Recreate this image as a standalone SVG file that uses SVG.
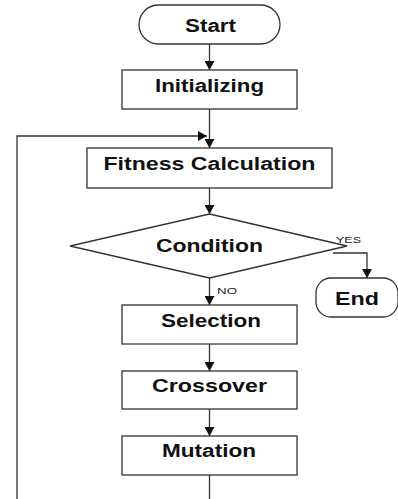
<svg xmlns="http://www.w3.org/2000/svg" width="398" height="499" viewBox="0 0 398 499">
<style>
.n{fill:#fff;stroke:#333;stroke-width:1.3}
.t{font-family:"Liberation Sans",Arial,sans-serif;font-weight:bold;font-size:18px;fill:#111;text-anchor:middle}
.s{font-family:"Liberation Sans",Arial,sans-serif;font-size:9px;fill:#222}
.c{fill:none;stroke:#333;stroke-width:1.3}
</style>
<defs>
<marker id="a" markerWidth="10" markerHeight="10" refX="9" refY="5" orient="auto" markerUnits="userSpaceOnUse">
<path d="M0,0 L9,5 L0,10 Z" fill="#111"/>
</marker>
</defs>
<rect width="398" height="499" fill="#fff"/>
<g id="connectors">
<path class="c" d="M209.5,44 V70" marker-end="url(#a)"/>
<path class="c" d="M209.5,109 V148" marker-end="url(#a)"/>
<path class="c" d="M17,499 V136 H207" marker-end="url(#a)"/>
<path class="c" d="M209.5,188 V214" marker-end="url(#a)"/>
<path class="c" d="M333,253 H367 V278" marker-end="url(#a)"/>
<path class="c" d="M209.5,278 V305" marker-end="url(#a)"/>
<path class="c" d="M209.5,344 V371" marker-end="url(#a)"/>
<path class="c" d="M209.5,409 V436" marker-end="url(#a)"/>
<path class="c" d="M209.5,475 V499"/>
<text class="s" x="336" y="243" textLength="25" lengthAdjust="spacingAndGlyphs">YES</text>
<text class="s" x="217" y="294" textLength="20" lengthAdjust="spacingAndGlyphs">NO</text>
</g>
<g id="start">
<rect class="n" x="139" y="5" width="141" height="39" rx="19.5"/>
<text class="t" x="210.5" y="32" textLength="51" lengthAdjust="spacingAndGlyphs">Start</text>
</g>
<g id="init">
<rect class="n" x="122" y="70" width="175" height="39"/>
<text class="t" x="209.5" y="92" textLength="109" lengthAdjust="spacingAndGlyphs">Initializing</text>
</g>
<g id="fitness">
<rect class="n" x="87" y="148" width="245" height="40"/>
<text class="t" x="209.5" y="170" textLength="212" lengthAdjust="spacingAndGlyphs">Fitness Calculation</text>
</g>
<g id="condition">
<polygon class="n" points="209.5,214 347,246 209.5,278 70,246"/>
<text class="t" x="209.5" y="252" textLength="107" lengthAdjust="spacingAndGlyphs">Condition</text>
</g>
<g id="end">
<rect class="n" x="316" y="278" width="82" height="39" rx="15"/>
<text class="t" x="357" y="305" textLength="44" lengthAdjust="spacingAndGlyphs">End</text>
</g>
<g id="selection">
<rect class="n" x="122" y="305" width="175" height="39"/>
<text class="t" x="211" y="327" textLength="100" lengthAdjust="spacingAndGlyphs">Selection</text>
</g>
<g id="crossover">
<rect class="n" x="122" y="371" width="175" height="38"/>
<text class="t" x="209.5" y="392" textLength="115" lengthAdjust="spacingAndGlyphs">Crossover</text>
</g>
<g id="mutation">
<rect class="n" x="122" y="436" width="175" height="39"/>
<text class="t" x="209" y="457" textLength="94" lengthAdjust="spacingAndGlyphs">Mutation</text>
</g>
</svg>
